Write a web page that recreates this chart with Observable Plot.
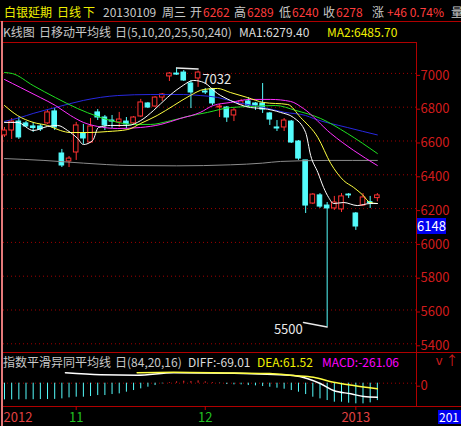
<!DOCTYPE html>
<html><head><meta charset="utf-8">
<script src="https://cdn.jsdelivr.net/npm/d3@7"></script>
<script src="https://cdn.jsdelivr.net/npm/@observablehq/plot@0.6"></script>
<style>
html,body{margin:0;padding:0;background:#000;}
#root{position:relative;width:461px;height:426px;overflow:hidden;background:#000;font-family:"Noto Sans CJK SC","Noto Sans",sans-serif;font-size:12px;}
.t{position:absolute;white-space:nowrap;line-height:14px;}
.ln{position:absolute;background:#b00000;}
#root svg{position:absolute;left:0;}
</style></head><body><div id="root"></div>
<script>
// ---- data ----
const opens  = [6633,6662,6715,6704,6686,6686,6704,6775,6526,6479,6532,6645,6591,6769,6739,6721,6710,6715,6704,6745,6822,6804,6857,6982,6999,7005,6940,6970,6893,6905,6798,6798,6751,6816,6834,6822,6822,6763,6680,6680,6715,6597,6485,6230,6278,6218,6201,6195,6283,6171,6218,6238,6262];
const highs  = [6680,6733,6739,6715,6710,6698,6781,6792,6550,6508,6710,6698,6733,6786,6751,6751,6769,6739,6745,6846,6828,6863,6881,7005,7032,7017,6958,7014,6911,6911,6816,6804,6792,6846,6857,6828,6940,6769,6721,6733,6721,6603,6485,6289,6289,6236,6272,6289,6289,6177,6289,6272,6289];
const lows   = [6621,6609,6609,6680,6651,6656,6698,6662,6443,6443,6485,6580,6585,6721,6662,6674,6680,6674,6692,6739,6792,6798,6834,6952,6988,6952,6792,6917,6875,6810,6739,6710,6715,6810,6798,6781,6763,6692,6656,6656,6585,6485,6171,6224,6201,5500,6189,6177,6260,6071,6212,6201,6240];
const closes = [6662,6715,6621,6686,6677,6668,6769,6680,6455,6496,6692,6615,6686,6739,6692,6715,6727,6698,6739,6828,6798,6857,6875,6999,6993,6958,6887,7005,6887,6822,6804,6739,6781,6834,6810,6810,6786,6727,6674,6721,6591,6496,6218,6283,6212,6201,6236,6272,6278,6094,6266,6232,6278];

// moving averages: sample positions (candle index) and values
const ma5I   = [0,1.8,4,6,7.4,8.8,10.2,11,12.3,13.1,14.8,17.2,19,20.8,22.7,24.5,26.4,27.8,29.7,31.5,34.3,36.1,38.5,40.3,42,42.7,43.7,44.5,45.2,45.9,47.3,49.2,51,52];
const ma5V   = [6710,6710,6662,6686,6692,6662,6615,6579,6603,6680,6692,6692,6721,6781,6857,6917,6958,6946,6881,6840,6798,6792,6769,6739,6650,6514,6414,6325,6266,6230,6236,6218,6230,6230];
const ma10I  = [0,1.8,4,6,7.8,9.2,11.6,14.4,17.2,19,21.3,23.6,25.9,27.8,29.7,31.5,33.9,36.1,39.5,41.3,43.7,45.5,47.3,48.7,49.9,51,52];
const ma10V  = [6810,6751,6710,6692,6662,6650,6650,6656,6668,6704,6751,6810,6869,6905,6911,6887,6857,6828,6816,6739,6621,6467,6366,6325,6283,6236,6230];
const ma20I  = [0,2.2,5,7.1,9.2,11,13,15.8,19,21.8,24.5,27.3,29.1,31.5,34.3,37.1,39.9,41.7,45.5,48.7,52];
const ma20V  = [6964,6917,6857,6810,6751,6710,6686,6674,6680,6698,6733,6769,6810,6828,6846,6846,6834,6792,6645,6544,6455];
const ma25I  = [0,1.1,4,7.1,10.2,13,14.8,18,20.4,22.7,25.5,28.3,31.5,34.3,37.8,40.6,44.1,47.8,52];
const ma25V  = [7005,6999,6928,6857,6792,6745,6721,6698,6698,6715,6745,6769,6798,6804,6810,6781,6733,6645,6526];
const ma50I  = [0,2.2,4,7.1,11,15.8,20.4,25,27.3,29.7,32.2,36,39,42,43.1,47.8,52];
const ma50V  = [6716,6739,6763,6798,6840,6869,6875,6875,6869,6858,6830,6800,6770,6751,6733,6680,6636];
const ma240I = [0,5.5,11,17.5,24,31.5,36,38.5,45,52];
const ma240V = [6496,6485,6469,6455,6453,6459,6469,6479,6485,6485];

const macdV = [-250,-250,-250,-248,-248,-245,-245,-243,-235,-220,-210,-210,-200,-185,-185,-170,-160,-135,-110,-85,-60,-35,-10,10,20,30,25,35,20,10,-5,-20,-25,-25,-35,-40,-50,-60,-75,-90,-110,-135,-170,-210,-235,-260,-285,-285,-300,-310,-310,-295,-261];
const diffI = [8.5,13.4,18.5,23.6,32,36.6,40.3,42.3,44.1,45.9,48.3,50.1,52];
const diffV = [156,126,120,156,148,135,116,66,-9,-110,-159,-200,-210];
const deaI  = [18.5,23.6,32,37,40.3,43.1,45.9,48.7,52];
const deaV  = [156,165,152,145,116,90,15,-35,-84];

const priceTicks = [7000,6800,6600,6400,6200,6000,5800,5600,5400];
const monthTicks = [10,28];
const monthLabels = ["11","12"];
const yearTicks = [49];
const yearLabels = ["2013"];
const firstYear = "2012";
const cursorPrice = 6148;
const cursorDate = "20130109";

const titleName = "白银延期", period = "日线", dir = "下", weekday = "周三";
const maTitle = ["K线图","日移动平均线","日(5,10,20,25,50,240)"];
const maLegend = ["MA1:6279.40","MA2:6485.70"];
const macdTitle = ["指数平滑异同平均线","日(84,20,16)"];
const macdLegend = ["DIFF:-69.01","DEA:61.52","MACD:-261.06"];

// ---- drawing ----
const root = document.getElementById("root");
const FONT = '"Noto Sans CJK SC","Noto Sans",sans-serif';
const UP = "#ff3232", DN = "#54fcfc", GRID = "#a00000", AX = "#d01c1c";
function txt(s, x, y, color, size) {
  const d = document.createElement("div");
  d.className = "t"; d.textContent = s;
  d.style.left = x + "px"; d.style.top = y + "px"; d.style.color = color;
  if (size) d.style.fontSize = size + "px";
  root.appendChild(d); return d;
}
function line(x, y, w, h, color) {
  const d = document.createElement("div");
  d.className = "ln";
  Object.assign(d.style, {left: x + "px", top: y + "px", width: w + "px", height: h + "px"});
  if (color) d.style.background = color;
  root.appendChild(d);
}

const N = opens.length;
const last = N - 1;
const chg = closes[last] - closes[last - 1];
const pct = chg / closes[last - 1] * 100;
const fmtSign = v => (v >= 0 ? "+" : "") + v;

// header row 1
const Y1 = "#f0f000", G = "#c8c8c8", R = "#ff3c3c";
txt(titleName, 4, 5, Y1);
txt(period, 57, 5, Y1);
txt(dir, 83, 5, Y1);
txt(cursorDate, 103, 5, G);
txt(weekday, 162, 5, G);
txt("开", 190, 5, G); txt(String(opens[last]), 203, 5, R);
txt("高", 234, 5, G); txt(String(highs[last]), 247, 5, R);
txt("低", 279, 5, G); txt(String(lows[last]), 292, 5, R);
txt("收", 323, 5, G); txt(String(closes[last]), 336, 5, R);
txt("涨", 372, 5, G); txt(fmtSign(chg) + " " + pct.toFixed(2) + "%", 387, 5, R);
const vol = txt("量", 451, 5, G);
Object.assign(vol.style, {width: "10px", overflow: "hidden"});
// header row 2
txt(maTitle[0], 3, 25, G);
txt(maTitle[1], 39, 25, G);
txt(maTitle[2], 115, 25, G);
txt(maLegend[0], 239, 25, "#dcdcdc");
txt(maLegend[1], 327, 25, Y1);
// macd header
txt(macdTitle[0], 3, 355, G);
txt(macdTitle[1], 115, 355, G);
txt(macdLegend[0], 188, 355, "#dcdcdc");
txt(macdLegend[1], 257, 355, Y1);
txt(macdLegend[2], 322, 355, "#ff00ff");

// frame
line(0, 21, 461, 1);
line(3, 42, 413, 1);
line(416, 42, 1, 364);
line(3, 352, 458, 1);
line(3, 406, 458, 1);
line(1, 21, 2, 405, "#e47a7a");

const xDomain = [-0.14, 57.46];
const candles = opens.map((o, i) => ({i, o, h: highs[i], l: lows[i], c: closes[i], up: closes[i] >= o}));
const pairs = (I, V) => I.map((i, k) => ({i, v: V[k]}));
const maSeries = [
  [ma240I, ma240V, "#8c8c8c"],
  [ma50I, ma50V, "#2828e0"],
  [ma25I, ma25V, "#20e020"],
  [ma20I, ma20V, "#ff30ff"],
  [ma10I, ma10V, "#ffff40"],
  [ma5I, ma5V, "#ffffff"]
];
const hi = d3.maxIndex(highs), lo = d3.minIndex(lows);

const main = Plot.plot({
  width: 461, height: 310, marginLeft: 3, marginRight: 45, marginTop: 0, marginBottom: 0,
  style: {background: "transparent", fontFamily: FONT, fontSize: "12px", overflow: "visible"},
  x: {domain: xDomain, axis: null},
  y: {domain: [5348.5, 7182.8], axis: null},
  marks: [
    Plot.gridY(priceTicks, {stroke: GRID, strokeOpacity: 1, strokeDasharray: "1,3"}),
    Plot.axisY(priceTicks, {anchor: "right", tickSize: 3, tickPadding: 1, stroke: "#c00000", fill: AX, fontSize: 13, dy: 2, tickFormat: d => String(d)}),
    Plot.ruleX(candles, {x: "i", y1: "l", y2: "h", stroke: d => d.up ? UP : DN}),
    Plot.rect(candles, {x1: d => d.i - 0.32, x2: d => d.i + 0.32, y1: "o", y2: "c", fill: d => d.up ? "#000000" : DN, stroke: d => d.up ? UP : DN}),
    ...maSeries.map(([I, V, c]) => Plot.line(pairs(I, V), {x: "i", y: "v", stroke: c, strokeWidth: 1, curve: "monotone-x"})),
    Plot.line([{i: hi, v: highs[hi]}, {i: hi + 3, v: highs[hi] - 6}], {x: "i", y: "v", stroke: "#e8e8e8"}),
    Plot.text([{i: hi + 3.6, v: highs[hi] - 70}], {x: "i", y: "v", text: () => String(highs[hi]), textAnchor: "start", fill: "#e8e8e8", fontSize: 13}),
    Plot.line([{i: lo, v: lows[lo]}, {i: lo - 3.3, v: lows[lo] + 26}], {x: "i", y: "v", stroke: "#e8e8e8"}),
    Plot.text([{i: lo - 3.4, v: lows[lo] - 16}], {x: "i", y: "v", text: () => String(lows[lo]), textAnchor: "end", fill: "#e8e8e8", fontSize: 13})
  ]
});
main.style.top = "42px";
root.appendChild(main);

// cursor price box
const yc = main.scale("y").apply(cursorPrice) + 42;
const box = txt(String(cursorPrice), 417, yc + 1, "#ffffff", 13);
Object.assign(box.style, {background: "#0000f0", width: "29px", height: "16px", lineHeight: "16px", textAlign: "center"});

const macdData = macdV.map((v, i) => ({i, v}));
const macd = Plot.plot({
  width: 461, height: 74, marginLeft: 3, marginRight: 45, marginTop: 0, marginBottom: 20,
  style: {background: "transparent", fontFamily: FONT, fontSize: "12px", overflow: "visible"},
  x: {domain: xDomain, axis: null},
  y: {domain: [-349.5, 460.5], axis: null},
  marks: [
    Plot.gridY([0], {stroke: GRID, strokeOpacity: 1, strokeDasharray: "1,3"}),
    Plot.axisY([0], {anchor: "right", tickSize: 3, tickPadding: 1, stroke: "#c00000", fill: AX, fontSize: 13, dy: 3, tickFormat: d => String(d)}),
    Plot.ruleX(macdData, {x: "i", y1: 0, y2: "v", stroke: d => d.v >= 0 ? UP : DN}),
    Plot.line(pairs(diffI, diffV), {x: "i", y: "v", stroke: "#ffffff", curve: "monotone-x"}),
    Plot.line(pairs(deaI, deaV), {x: "i", y: "v", stroke: "#ffff40", curve: "monotone-x"}),
    Plot.axisX(monthTicks, {anchor: "bottom", tickSize: 4, tickPadding: 2, stroke: "#c00000", fill: "#22c022", fontSize: 13, tickFormat: d => monthLabels[monthTicks.indexOf(d)]}),
    Plot.axisX(yearTicks, {anchor: "bottom", tickSize: 4, tickPadding: 2, stroke: "#c00000", fill: "#e04040", fontSize: 13, tickFormat: d => yearLabels[yearTicks.indexOf(d)]}),
    Plot.text([firstYear], {x: () => xDomain[0], frameAnchor: "bottom", text: d => d, textAnchor: "start", lineAnchor: "top", dy: 6, fill: "#e04040", fontSize: 13})
  ]
});
macd.style.top = "352px";
root.appendChild(macd);

const db = txt(cursorDate.slice(0, 3), 438, 410, "#ffffff", 12);
Object.assign(db.style, {background: "#0000f0", width: "23px", height: "14px", paddingLeft: "1px"});
</script></body></html>
